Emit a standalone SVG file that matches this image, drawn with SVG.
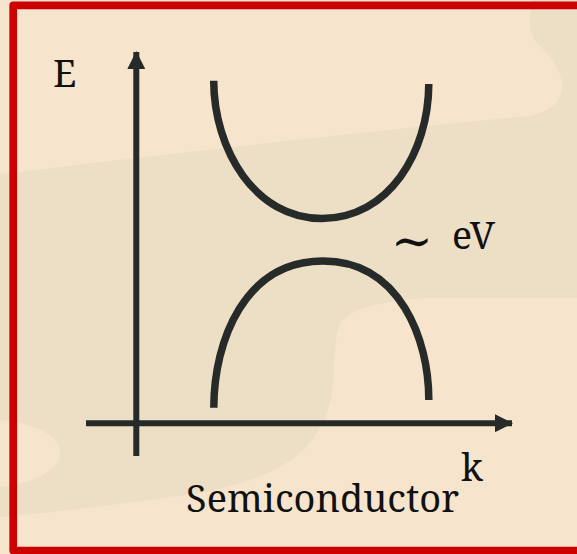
<svg xmlns="http://www.w3.org/2000/svg" width="577" height="554" viewBox="0 0 577 554">
<defs>
<style>
.curve{fill:none;stroke:#262a28;stroke-width:7.5;stroke-linecap:butt}
.axis{fill:none;stroke:#262a28;stroke-width:6}
.lbl{font-family:"Noto Serif","DejaVu Serif","Liberation Serif",serif;fill:#111;font-size:37.5px}
.tilde{font-family:"DejaVu Serif","Liberation Serif",serif;font-size:50px}
</style>
<marker id="ah" viewBox="0 0 18 18" refX="17" refY="9" markerWidth="18" markerHeight="18" markerUnits="userSpaceOnUse" orient="auto">
<path d="M0,0 L18,9 L0,18 Z" fill="#262a28"/>
</marker>
</defs>
<g id="background">
<rect x="0" y="0" width="577" height="554" fill="#f6e4cc"/>
<path d="M534,0 C529,12 526,30 537,43 C548,55 562,68 562,85 C562,102 550,112 530,116 C420,126 200,150 0,174 L0,420 C25,422 60,432 60,452 C60,472 30,484 0,487 L0,517 C80,510 150,500 200,493 C240,486 290,470 312,440 C330,415 333,395 334,370 C335,345 336,325 345,318 C360,305 400,298 440,298 L577,298 L577,0 Z" fill="#eddec6"/>
</g>
<g id="frame">
<rect x="13.2" y="5.4" width="570" height="545.1" fill="none" stroke="#cc0000" stroke-width="7.7" stroke-linejoin="round"/>
</g>
<g id="connectors">
<line class="axis" x1="136.3" y1="456" x2="136.3" y2="52" marker-end="url(#ah)"/>
<line class="axis" x1="86" y1="423.2" x2="512" y2="423.2" marker-end="url(#ah)"/>
</g>
<g id="conduction-band">
<path class="curve" d="M213.7,80.7 C214,150 255,218.5 322,218.5 C389,218.5 428.5,152 428.8,84"/>
</g>
<g id="valence-band">
<path class="curve" d="M213.8,407.7 C214,340 245,261 323,261 C400,261 429,340 428.8,400"/>
</g>
<g id="label-E">
<text class="lbl" x="53" y="86.7">E</text>
</g>
<g id="label-k">
<text class="lbl" x="461" y="480.7">k</text>
</g>
<g id="label-gap">
<text class="lbl"><tspan class="tilde" x="391" y="258">∼</tspan><tspan x="452" y="249">eV</tspan></text>
</g>
<g id="label-title">
<text class="lbl" x="186" y="511.7" textLength="273" lengthAdjust="spacingAndGlyphs">Semiconductor</text>
</g>
</svg>
